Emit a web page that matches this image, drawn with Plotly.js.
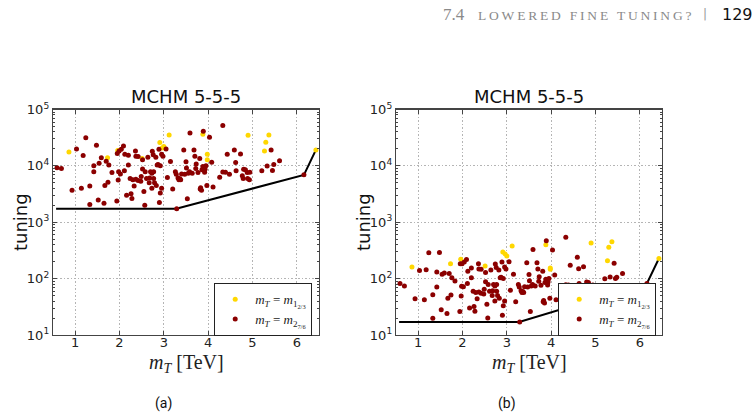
<!DOCTYPE html>
<html>
<head>
<meta charset="utf-8">
<script src="https://cdn.plot.ly/plotly-3.0.1.min.js"></script>
<style>
  html, body { margin: 0; padding: 0; background: #ffffff; }
  #chart { width: 756px; height: 417px; }
</style>
</head>
<body>
<div id="chart"></div>
<script>
// Top-partner mass m_T [TeV] for the scanned points (shared by both panels)
const mT_red = [0.59,0.69,0.93,1.03,1.14,1.18,1.24,1.33,1.33,1.42,
  1.42,1.48,1.52,1.54,1.59,1.65,1.67,1.70,1.74,1.76,
  1.83,1.94,1.95,1.97,1.98,1.99,2.02,2.04,2.09,2.11,
  2.12,2.16,2.20,2.20,2.24,2.26,2.28,2.33,2.36,2.37,
  2.42,2.37,2.42,2.30,2.48,2.49,2.52,2.52,2.55,2.57,
  2.58,2.61,2.64,2.67,2.68,2.70,2.73,2.74,2.76,2.77,
  2.77,2.73,2.79,2.82,2.83,2.85,2.87,2.89,2.90,2.92,
  2.92,2.95,2.95,2.98,3.05,3.08,3.15,3.20,3.26,3.28,
  3.32,3.34,3.36,3.38,3.40,3.45,3.47,3.50,3.51,3.53,
  3.55,3.58,3.59,3.64,3.68,3.70,3.72,3.73,3.77,3.81,
  3.82,3.83,3.85,3.86,3.88,3.89,3.92,3.93,3.95,3.97,
  4.03,4.08,4.11,4.26,4.33,4.33,4.39,4.43,4.48,4.59,
  4.62,4.63,4.73,4.77,4.79,4.80,4.84,4.88,4.89,4.93,
  4.94,5.21,5.33,5.42,5.45,5.48,5.61,6.16,3.29];
const mT_yel = [0.86,1.96,1.73,2.51,3.12,2.91,2.96,3.00,3.88,3.98,3.98,4.90,5.37,5.30,5.27,6.43];

// Panel (a): tuning values
const tuneA_red = [9300,9000,3700,20000,4000,15200,31700,4400,2070,7900,
  10100,23200,2470,11100,14000,2180,4500,12100,5100,10400,
  7600,2370,16500,5600,7900,18400,7200,19700,22600,8200,
  16100,3000,15400,10400,6000,3200,2640,4400,18400,14800,
  14600,5800,5500,5650,5350,6500,8800,12900,3500,2010,
  7900,6000,14200,5000,6100,7900,7400,18200,15700,7900,
  6000,4000,5000,14200,4500,10400,10600,19700,2240,3300,
  10100,4000,16100,14800,20000,6200,11900,3900,7900,7100,
  6100,5650,5900,5650,7200,19200,7100,11800,9200,2610,
  7400,7900,38400,7400,19200,14800,9000,10800,7600,13500,
  3900,4100,3700,8500,9700,41100,7700,8700,10100,4500,
  32100,11600,4200,6300,51800,7800,7700,16100,7100,19200,
  11500,8200,16300,6700,6000,8700,8500,7600,6000,5700,
  7700,8200,10000,19200,8300,10600,12300,6930,1730];
const tuneA_yel = [17700,18700,14000,13500,35400,25900,20800,22000,36300,16100,12900,34900,35400,26200,18400,19200];

// Panel (b): tuning values
const tuneB_red = [82,74,44,139,42,144,289,52,19.8,71,
  131,290,28,119,126,24,45,123,51,104,
  91,26,184,49,73,184,72,197,219,82,
  135,30,154,104,60,32,26.4,44,184,148,
  146,58,55,56.5,53.5,65,88,129,35,20.1,
  79,60,142,50,61,79,74,182,157,79,
  60,40,50,142,45,104,106,197,22.4,33,
  101,40,161,148,200,62,119,39,79,71,
  61,56.5,59,56.5,72,192,71,118,92,26.1,
  74,79,330,74,192,148,90,108,76,135,
  39,41,37,85,97,470,77,87,101,45,
  321,116,42,63,540,78,77,172,71,239,
  150,82,163,67,60,87,85,76,60,57,
  77,100,107,187,101,106,123,82,17];
const tuneB_yel = [161,220,184,168,378,296,274,252,400,154,146,428,452,359,208,228];

// Lower bound on the tuning
const boundX = [0.57, 3.28, 6.16, 6.43];
const boundA = [1730, 1730, 6930, 19200];
const boundB = [17, 17, 82, 228];

const xTicks = [1, 2, 3, 4, 5, 6];
const yTickVals = [10, 100, 1000, 10000, 100000];
const yTickText = ['10<sup>1</sup>', '10<sup>2</sup>', '10<sup>3</sup>', '10<sup>4</sup>', '10<sup>5</sup>'];

const labelYel = '<i>m<sub>T</sub></i> = <i>m</i><sub>1<sub>2/3</sub></sub>';
const labelRed = '<i>m<sub>T</sub></i> = <i>m</i><sub>2<sub>7/6</sub></sub>';

// minor log ticks: 2..9 within every decade
const minorVals = [];
for (let d = 1; d < 5; d++) for (let k = 2; k <= 9; k++) minorVals.push(k * Math.pow(10, d));

const W = 756, H = 417;
const px = v => v / W;
const py = v => 1 - v / H;

const RED = '#8b0000', YEL = '#ffd700';

function panel(xa, ya, leg, tuneRed, tuneYel, bound) {
  return [
    { x: boundX, y: bound, xaxis: xa, yaxis: ya, mode: 'lines', type: 'scatter',
      line: { color: '#000', width: 2 }, showlegend: false, hoverinfo: 'skip' },
    { x: mT_yel, y: tuneYel, xaxis: xa, yaxis: ya, mode: 'markers', type: 'scatter',
      marker: { color: YEL, size: 5 }, name: labelYel, legend: leg },
    { x: mT_red, y: tuneRed, xaxis: xa, yaxis: ya, mode: 'markers', type: 'scatter',
      marker: { color: RED, size: 5 }, name: labelRed, legend: leg }
  ];
}

const data = [
  ...panel('x', 'y', 'legend', tuneA_red, tuneA_yel, boundA),
  ...panel('x2', 'y2', 'legend2', tuneB_red, tuneB_yel, boundB)
];

const axLine = {
  showline: true, linecolor: '#444', linewidth: 1.2, mirror: 'ticks',
  ticks: 'inside', ticklen: 4, tickwidth: 1, tickcolor: '#444',
  showgrid: true, gridcolor: '#b4b4b4', griddash: '1.5px,2px', gridwidth: 1,
  zeroline: false, tickfont: { family: 'DejaVu Sans', size: 13, color: '#222' }
};

function xAxis(domain, anchor) {
  return Object.assign({}, axLine, {
    domain: domain, anchor: anchor, range: [0.5, 6.5],
    tickmode: 'array', tickvals: xTicks, ticklabelstandoff: -5
  });
}
function yAxis(domain, anchor) {
  return Object.assign({}, axLine, {
    domain: domain, anchor: anchor, type: 'log', range: [1, 5],
    tickmode: 'array', tickvals: yTickVals, ticktext: yTickText,
    minor: { tickmode: 'array', tickvals: minorVals, ticks: 'inside', ticklen: 2,
      tickcolor: '#444', showgrid: false }
  });
}

const yDom = [py(335), py(109.5)];
const legendBase = {
  xanchor: 'left', yanchor: 'top', y: py(283),
  bordercolor: '#222', borderwidth: 1.2, bgcolor: '#ffffff',
  font: { family: 'Liberation Serif', size: 13, color: '#222' },
  tracegroupgap: 0
};

const titleFont = { family: 'DejaVu Sans', size: 18, color: '#111' };
const yTitleFont = { family: 'DejaVu Sans', size: 18, color: '#111' };
const xTitleFont = { family: 'Liberation Serif', size: 20, color: '#222' };
const xTitle = '<i>m<sub>T</sub></i> [TeV]';
const headGray = '#8a8a8a';
const capFont = { family: 'Liberation Sans Narrow, Roboto', size: 14, color: '#111' };

function paperText(text, x, y, font, extra) {
  return Object.assign({ text: text, xref: 'paper', yref: 'paper', x: px(x), y: py(y),
    xanchor: 'center', yanchor: 'middle', showarrow: false, font: font }, extra || {});
}

const annotations = [
  // panel titles
  { text: 'MCHM 5-5-5', xref: 'x domain', yref: 'y domain', x: 0.5, y: 1, yshift: 0,
    xanchor: 'center', yanchor: 'bottom', showarrow: false, font: titleFont },
  { text: 'MCHM 5-5-5', xref: 'x2 domain', yref: 'y2 domain', x: 0.5, y: 1, yshift: 0,
    xanchor: 'center', yanchor: 'bottom', showarrow: false, font: titleFont },
  // axis titles
  paperText('tuning', 20, 222, yTitleFont, { textangle: -90 }),
  paperText('tuning', 363, 222, yTitleFont, { textangle: -90 }),
  paperText(xTitle, 186, 363, xTitleFont),
  paperText(xTitle, 529, 363, xTitleFont),
  // running head
  paperText('7.4', 441, 14, { family: 'Liberation Serif', size: 17, color: headGray }, { xanchor: 'left' }),
  paperText('LOWERED FINE TUNING?', 586, 15.5, { family: 'Liberation Serif', size: 13.5, color: headGray }),
  paperText('|', 705, 14, { family: 'DejaVu Sans', size: 12, color: '#9a9a9a' }),
  paperText('129', 720, 14, { family: 'DejaVu Sans', size: 16, color: '#111' }, { xanchor: 'left' }),
  // sub-figure captions
  paperText('(a)', 163, 403, capFont),
  paperText('(b)', 507, 403, capFont)
];

const layout = {
  width: W, height: H,
  margin: { l: 0, r: 0, t: 0, b: 0 },
  paper_bgcolor: '#ffffff', plot_bgcolor: '#ffffff',
  xaxis: xAxis([px(53), px(319)], 'y'),
  yaxis: yAxis(yDom, 'x'),
  xaxis2: xAxis([px(396), px(662)], 'y2'),
  yaxis2: yAxis(yDom, 'x2'),
  legend: Object.assign({}, legendBase, { x: px(214) }),
  legend2: Object.assign({}, legendBase, { x: px(558) }),
  annotations: annotations,
  showlegend: true
};

Plotly.newPlot('chart', data, layout, { staticPlot: true }).then(() => {
  // widen the tracking of the capitalised running head (centred, so it grows both ways)
  document.querySelectorAll('.annotation-text').forEach(t => {
    if (t.textContent.indexOf('LOWERED') >= 0) t.style.letterSpacing = '2.8px';
  });
});
</script>
</body>
</html>
